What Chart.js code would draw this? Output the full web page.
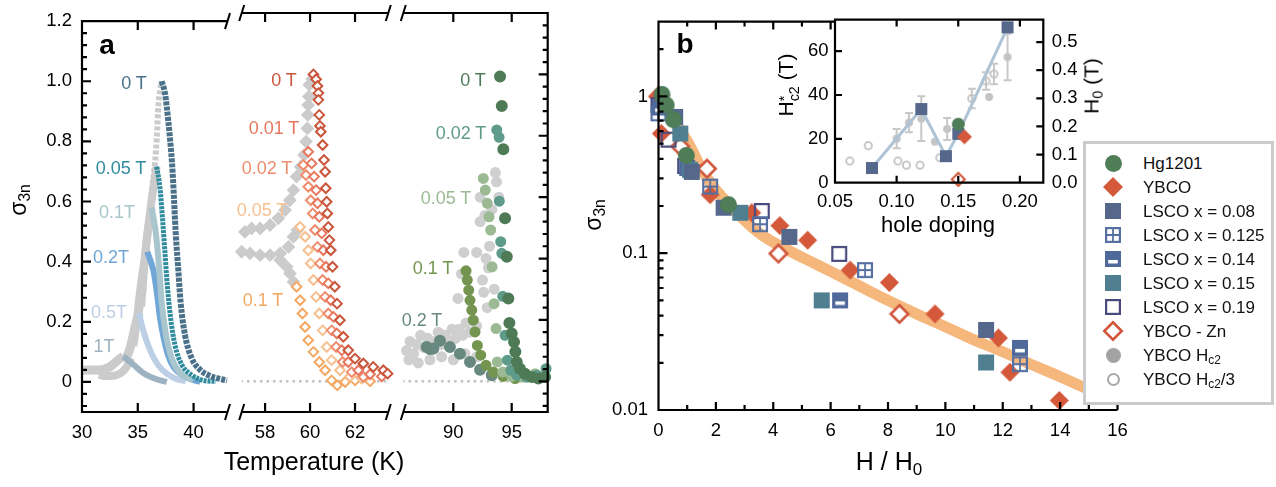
<!DOCTYPE html>
<html>
<head>
<meta charset="utf-8">
<script src="https://cdn.jsdelivr.net/npm/chart.js@4.4.1/dist/chart.umd.min.js"></script>
<style>
body { margin: 0; background: #fff; }
#wrap { position: relative; width: 1276px; height: 487px; overflow: hidden; font-family: "Liberation Sans", Arial, sans-serif; color: #111; }
canvas { position: absolute; top: 0; }
.t { position: absolute; white-space: nowrap; line-height: 1; transform: translate(-50%, -50%); }
.t sub { font-size: 0.68em; vertical-align: -0.3em; line-height: 0; }
#legend { position: absolute; left: 1083px; top: 141px; width: 185px; height: 258px; border: 3px solid #cbcbcb; background: #fff; }
#legend .row { position: absolute; left: 0; height: 20px; width: 185px; }
#legend canvas { position: absolute; }
#legend span { position: absolute; left: 57px; top: 50%; transform: translateY(-50%); font-size: 17px; white-space: nowrap; line-height: 1; }
#legend sub { font-size: 0.7em; vertical-align: -0.3em; line-height: 0; }
</style>
</head>
<body>
<div id="wrap">
  <canvas id="a1" width="235" height="487" style="left:0px"></canvas>
  <canvas id="a2" width="162" height="487" style="left:234px"></canvas>
  <canvas id="a3" width="160" height="487" style="left:396px"></canvas>
  <canvas id="b" width="580" height="487" style="left:560px"></canvas>
  <canvas id="ins" width="340" height="250" style="left:760px"></canvas>
  <div id="legend"></div>
</div>
<script>
// ---------- panel a, left block (~37 K): [T, sigma_3n] ----------
const a1_0T   = [[37.14,1.0],[37.44,0.96],[37.59,0.917],[37.89,0.808],[38.12,0.699],[38.27,0.59],[38.42,0.482],[38.63,0.373],[38.84,0.264],[39.23,0.156],[39.83,0.079],[40.57,0.041],[41.47,0.02],[42.37,0.01],[43.0,0.005]];
const a1_005T = [[36.69,0.716],[36.99,0.645],[37.23,0.536],[37.44,0.427],[37.65,0.319],[37.95,0.21],[38.33,0.123],[38.93,0.058],[39.83,0.023],[40.87,0.005],[42.0,0.002]];
const a1_01T  = [[36.24,0.58],[36.6,0.5],[36.93,0.373],[37.14,0.264],[37.53,0.156],[38.04,0.079],[38.78,0.03],[39.97,0.005]];
const a1_02T  = [[35.85,0.433],[36.4,0.37],[36.7,0.3],[37.0,0.21],[37.3,0.15],[37.7,0.09],[38.2,0.05],[39.4,0.014],[40.6,0.0]];
const a1_05T  = [[35.1,0.229],[35.5,0.17],[35.9,0.125],[36.5,0.075],[37.2,0.04],[38.2,0.014],[39.3,0.002]];
const a1_1T   = [[33.7,0.085],[34.6,0.058],[35.49,0.03],[36.69,0.009],[37.6,0.0]];
const a1Gray0T   = [[35.5,0.3],[35.8,0.45],[36.1,0.57],[36.4,0.68],[36.55,0.73],[36.7,0.81],[36.85,0.92],[37.0,0.97],[37.14,1.0]];
const a1Gray005T = [[35.3,0.25],[35.6,0.4],[35.95,0.52],[36.3,0.62],[36.69,0.716]];
const a1Gray01T  = [[35.0,0.2],[35.3,0.3],[35.6,0.4],[35.9,0.5],[36.24,0.58]];
const a1Gray02T  = [[34.6,0.12],[34.9,0.2],[35.2,0.3],[35.5,0.38],[35.85,0.433]];
const a1Gray05T  = [[33.8,0.07],[34.2,0.1],[34.5,0.14],[34.8,0.19],[35.1,0.229]];
const a1Gray1T   = [[30,0.038],[30.5,0.04],[31,0.04],[31.5,0.04],[32,0.043],[32.5,0.05],[33,0.065],[33.4,0.078],[33.7,0.085]];
const a1GrayLow  = [[31.5,0.024],[32,0.02],[32.5,0.02],[33,0.022],[33.5,0.03],[34,0.05],[34.4,0.08]];

// ---------- panel a, middle block (~60 K) ----------
const a2_0T   = [[60.15,1.0],[60.27,0.984],[60.33,0.962],[60.37,0.939],[60.37,0.917],[60.41,0.868],[60.44,0.832],[60.48,0.813],[60.56,0.77],[60.62,0.721],[60.67,0.683],[60.7,0.629],[60.74,0.585],[60.77,0.547],[60.81,0.503],[60.86,0.46],[60.92,0.427],[61.0,0.373],[61.1,0.308],[61.2,0.253],[61.33,0.199],[61.48,0.145],[61.7,0.101],[62.0,0.074],[62.37,0.058],[62.81,0.047],[63.26,0.036],[63.45,0.025]];
const a2_001T = [[59.92,0.748],[60.07,0.71],[60.18,0.667],[60.27,0.623],[60.33,0.58],[60.41,0.536],[60.52,0.482],[60.59,0.427],[60.71,0.373],[60.81,0.319],[60.92,0.264],[61.04,0.21],[61.19,0.156],[61.41,0.101],[61.7,0.063],[62.15,0.036],[62.67,0.023],[63.19,0.016]];
const a2_002T = [[59.7,0.705],[59.82,0.672],[59.92,0.634],[60.03,0.59],[60.12,0.547],[60.22,0.493],[60.33,0.438],[60.44,0.384],[60.56,0.33],[60.67,0.275],[60.81,0.221],[60.96,0.166],[61.16,0.112],[61.45,0.063],[61.85,0.03],[62.37,0.014]];
const a2_005T = [[59.56,0.503],[59.78,0.471],[59.92,0.427],[60.03,0.384],[60.15,0.33],[60.27,0.275],[60.41,0.221],[60.56,0.166],[60.74,0.112],[60.96,0.069],[61.33,0.036],[61.78,0.016],[62.3,0.009]];
const a2_01T  = [[59.4,0.308],[59.56,0.264],[59.66,0.221],[59.78,0.177],[59.92,0.134],[60.15,0.096],[60.41,0.063],[60.67,0.036],[60.96,0.003],[61.21,-0.013],[61.56,-0.002],[62.0,0.003],[62.67,0.0]];
const a2GrayTop  = [[60.1,0.985],[59.97,0.966],[59.95,0.928],[59.92,0.9],[59.9,0.868],[59.88,0.824],[59.82,0.781],[59.73,0.737],[59.58,0.699],[59.4,0.667],[59.26,0.623],[59.1,0.59],[58.89,0.558],[58.59,0.531],[58.22,0.509],[57.78,0.498],[57.4,0.498],[57.1,0.487]];
const a2GrayMid  = [[56.96,0.422],[57.33,0.417],[57.78,0.411],[58.22,0.411],[58.67,0.417],[59.04,0.438],[59.26,0.471],[59.44,0.493]];
const a2GrayLow  = [[58.67,0.395],[58.96,0.373],[59.11,0.351],[59.26,0.324]];

// ---------- panel a, right block (~94 K) ----------
const a3_0T   = [[94.0,0.993],[94.15,0.897],[94.28,0.756],[94.43,0.531],[94.58,0.406],[94.71,0.27],[94.8,0.19],[95.0,0.156],[95.2,0.128],[95.31,0.096],[95.43,0.063],[95.71,0.041],[96.14,0.025],[96.72,0.014],[97.28,0.009],[97.86,0.014]];
const a3_002T = [[93.72,0.819],[93.92,0.795],[93.94,0.587],[94.06,0.455],[94.15,0.417],[94.23,0.277],[94.43,0.15],[94.63,0.069],[94.92,0.036],[95.43,0.02],[96.29,0.014],[97.15,0.02],[97.94,0.041]];
const a3_005T = [[92.57,0.661],[92.74,0.623],[92.91,0.58],[93.06,0.536],[93.2,0.493],[93.32,0.373],[93.49,0.253],[93.66,0.172],[93.77,0.063],[94.23,0.03],[95.0,0.016],[96.0,0.014],[97.0,0.025]];
const a3_01T  = [[91.09,0.36],[91.2,0.33],[91.32,0.297],[91.43,0.264],[91.58,0.232],[91.71,0.199],[91.86,0.161],[92.06,0.117],[92.35,0.085],[92.8,0.052],[93.43,0.03],[94.28,0.016],[95.29,0.009]];
const a3_02T  = [[87.72,0.112],[88.0,0.105],[88.29,0.107],[88.86,0.132],[89.71,0.112],[90.57,0.09],[91.43,0.063],[92.29,0.038],[93.29,0.02]];
const a3Gray  = [[86.0,0.1],[86.3,0.13],[86.6,0.09],[86.9,0.12],[87.2,0.15],[87.5,0.11],[87.8,0.14],[88.1,0.1],[88.4,0.13],[88.7,0.16],[89.0,0.12],[89.3,0.15],[89.6,0.13],[89.9,0.17],[90.2,0.14],[90.5,0.17],[90.8,0.15],[91.1,0.19],[91.4,0.16],[91.7,0.2],[92.0,0.18],
                 [86.2,0.07],[87.0,0.06],[88.0,0.07],[89.0,0.08],[90.0,0.07],[91.0,0.09],[92.0,0.08],
                 [90.4,0.27],[90.7,0.35],[90.9,0.42],[92.0,0.42],[92.3,0.52],[92.3,0.6],[92.6,0.29],[92.7,0.54],[92.9,0.24],[93.0,0.37],[93.1,0.44],[93.6,0.68],[93.7,0.65],[93.9,0.6],[92.5,0.33],[92.8,0.4],[93.3,0.56],[93.5,0.3]];

// ---------- panel b: [H/H0, sigma_3n] ----------
const bHg1201  = [[0.12,1.03],[0.27,0.88],[0.52,0.71],[0.97,0.42],[2.44,0.204]];
const bYbco    = [[0.0,1.0],[0.1,0.58],[1.8,0.236],[3.25,0.181],[4.23,0.15],[5.2,0.121],[6.68,0.078],[8.05,0.065],[9.64,0.041],[11.85,0.0288],[12.25,0.0174],[13.97,0.0115]];
const bLsco08  = [[0.58,0.74],[1.16,0.33],[2.27,0.195],[4.56,0.127],[11.42,0.0324]];
const bLsco125 = [[0.0,0.78],[1.8,0.266],[3.54,0.153],[7.2,0.078],[12.6,0.0196]];
const bLsco14  = [[0.05,0.85],[1.0,0.35],[6.33,0.05],[12.6,0.0249]];
const bLsco15  = [[0.76,0.58],[1.1,0.34],[2.85,0.181],[5.69,0.05],[11.42,0.0201]];
const bLsco19  = [[0.0,0.88],[0.35,0.53],[0.93,0.36],[3.6,0.186],[6.3,0.099]];
const bYbcoZn  = [[0.0,1.0],[0.76,0.48],[1.69,0.346],[4.18,0.0995],[8.4,0.041]];
const bFit     = [[0,1.0],[0.5,0.72],[1,0.52],[1.7,0.3],[2.5,0.2],[3.5,0.135],[4.5,0.105],[5.5,0.085],[6.7,0.066],[8,0.05],[9,0.041],[10,0.034],[11,0.028],[12,0.0235],[13,0.0195],[14,0.0163],[15,0.0135],[16,0.0115]];

// ---------- inset: hole doping vs H*c2 (T) / H0 (T) ----------
const insLscoDop  = [0.08, 0.12, 0.14, 0.15, 0.19];
const insLscoH    = [6.7, 33.6, 12.1, 22.3, 70.9];
const insHgDop    = [0.15],  insHgH0   = [0.208];
const insYbcoDop  = [0.155], insYbcoH0 = [0.163];
const insZnDop    = [0.15],  insZnH0   = [0.012];
const insHc2Dop   = [0.10, 0.11, 0.12, 0.131, 0.141, 0.175, 0.19];
const insHc2      = [20.1, 27.4, 29.2, 18.7, 24.5, 39.1, 57.3];
const insHc2Err   = [4.4, 4.4, 10.2, 0, 5, 0, 10.6];
const insHc23Dop  = [0.062, 0.077, 0.101, 0.108, 0.119, 0.135, 0.161, 0.1725, 0.179];
const insHc23     = [9.9, 16.9, 9.9, 8.0, 8.0, 11.4, 38.4, 46.4, 49.6];
const insHc23Err  = [0, 0, 0, 0, 0, 0, 4.4, 4.0, 4.7];

// ---------- tick values ----------
const a1Ticks = [30, 35, 40], a2Ticks = [58, 60, 62], a3Ticks = [90, 95];
const aYTicks = [0, 0.2, 0.4, 0.6, 0.8, 1.0, 1.2];
const bXTicks = [0, 2, 4, 6, 8, 10, 12, 14, 16];
const bYTicks = [0.01, 0.1, 1];
const insXTicks = [0.05, 0.10, 0.15, 0.20];
const insYTicks = [0, 20, 40, 60];
const insY2Ticks = [0, 0.1, 0.2, 0.3, 0.4, 0.5];

const legendLabels = ['Hg1201', 'YBCO', 'LSCO x = 0.08', 'LSCO x = 0.125', 'LSCO x = 0.14', 'LSCO x = 0.15', 'LSCO x = 0.19', 'YBCO - Zn', 'YBCO H<sub>c2</sub>', 'YBCO H<sub>c2</sub>/3'];

Chart.defaults.font.family = '"Liberation Sans", Arial, sans-serif';
Chart.defaults.color = '#111';
const TICK = 18.5;
const NOGRID = {display: false, drawTicks: false};

const xy = arr => arr.map(p => ({x: p[0], y: p[1]}));
const zip = (xs, ys) => xs.map((v, i) => ({x: v, y: ys[i]}));

// marker images for the symbols that Chart.js has no style for
function mk(type, s, color, lw) {
  lw = lw || 2;
  const pad = Math.ceil(lw) + 1;
  const c = document.createElement('canvas');
  c.width = c.height = Math.ceil(s + pad * 2);
  const g = c.getContext('2d'), m = c.width / 2, h = s / 2;
  g.fillStyle = color; g.strokeStyle = color; g.lineWidth = lw;
  g.beginPath();
  if (type === 'circle') { g.arc(m, m, h, 0, 2 * Math.PI); g.fill(); }
  else if (type === 'ocircle') { g.arc(m, m, h - lw / 2, 0, 2 * Math.PI); g.stroke(); }
  else if (type === 'diamond') { g.moveTo(m, m - h); g.lineTo(m + h, m); g.lineTo(m, m + h); g.lineTo(m - h, m); g.closePath(); g.fill(); }
  else if (type === 'odiamond') {
    const k = h - lw / 2;
    g.moveTo(m, m - k); g.lineTo(m + k, m); g.lineTo(m, m + k); g.lineTo(m - k, m); g.closePath();
    g.fillStyle = '#fff'; g.fill(); g.stroke();
  }
  else if (type === 'square') { g.fillRect(m - h, m - h, s, s); }
  else if (type === 'osquare') { g.strokeRect(m - h + lw / 2, m - h + lw / 2, s - lw, s - lw); }
  else if (type === 'gsquare') {
    g.strokeRect(m - h + lw / 2, m - h + lw / 2, s - lw, s - lw);
    g.lineWidth = lw * 0.8;
    g.moveTo(m, m - h); g.lineTo(m, m + h); g.moveTo(m - h, m); g.lineTo(m + h, m); g.stroke();
  }
  else if (type === 'bsquare') {
    g.fillRect(m - h, m - h, s, s);
    g.fillStyle = '#fff'; g.fillRect(m - h + s * 0.2, m - h + s * 0.56, s * 0.6, s * 0.22);
  }
  return c;
}

// axis frame with inward ticks and axis breaks
const framePlugin = {
  id: 'frame',
  afterDraw(chart, args, o) {
    const ctx = chart.ctx, a = chart.chartArea;
    const L = a.left, R = a.right, T = a.top, B = a.bottom;
    const xs = chart.scales.x;
    const topEnd = o.topEnd !== undefined ? o.topEnd : R;
    ctx.save();
    ctx.strokeStyle = '#000';
    ctx.lineWidth = o.lw || 2.2;
    ctx.beginPath();
    ctx.moveTo(L - (o.left ? 1.1 : 0), B); ctx.lineTo(R + (o.right ? 1.1 : 0), B);
    if (o.top !== false) { ctx.moveTo(L - (o.left ? 1.1 : 0), T); ctx.lineTo(topEnd + (o.right ? 1.1 : 0), T); }
    if (o.left) { ctx.moveTo(L, T); ctx.lineTo(L, B); }
    if (o.right) { ctx.moveTo(R, T); ctx.lineTo(R, B); }
    (o.xt || []).forEach(([v, len]) => {
      const px = xs.getPixelForValue(v);
      ctx.moveTo(px, B); ctx.lineTo(px, B - len);
      if (o.top !== false && px <= topEnd) { ctx.moveTo(px, T); ctx.lineTo(px, T + len); }
    });
    const yl = chart.scales[o.yl || 'y'], yr = chart.scales[o.yr || 'y'];
    (o.ylt || []).forEach(([v, len]) => { const py = yl.getPixelForValue(v); ctx.moveTo(L, py); ctx.lineTo(L + len, py); });
    (o.yrt || []).forEach(([v, len]) => { const py = yr.getPixelForValue(v); ctx.moveTo(R, py); ctx.lineTo(R - len, py); });
    ctx.stroke();
    ctx.lineWidth = 2;
    ctx.beginPath();
    const slash = (x, y) => { ctx.moveTo(x - 2.5, y + 8); ctx.lineTo(x + 2.5, y - 8); };
    if (o.breakL) { slash(L, T); slash(L, B); }
    if (o.breakR) { slash(R, T); slash(R, B); }
    ctx.stroke();
    ctx.restore();
  }
};

// white inset background + error bars
const insetPlugin = {
  id: 'insetBg',
  beforeDraw(chart) {
    const a = chart.chartArea, ctx = chart.ctx;
    ctx.save(); ctx.fillStyle = '#fff'; ctx.fillRect(a.left, a.top, a.right - a.left, a.bottom - a.top); ctx.restore();
  },
  beforeDatasetsDraw(chart) {
    const ctx = chart.ctx;
    ctx.save();
    chart.data.datasets.forEach(ds => {
      if (!ds.err) return;
      const ys = chart.scales[ds.yAxisID || 'y'], xs = chart.scales.x;
      ctx.strokeStyle = ds.errColor; ctx.lineWidth = 2;
      ds.data.forEach((p, i) => {
        const e = ds.err[i]; if (!e) return;
        const px = xs.getPixelForValue(p.x), y1 = ys.getPixelForValue(p.y - e), y2 = ys.getPixelForValue(p.y + e);
        ctx.beginPath();
        ctx.moveTo(px, y1); ctx.lineTo(px, y2);
        ctx.moveTo(px - 4, y1); ctx.lineTo(px + 4, y1);
        ctx.moveTo(px - 4, y2); ctx.lineTo(px + 4, y2);
        ctx.stroke();
      });
    });
    ctx.restore();
  }
};

function ticksFrom(list) { return s => { s.ticks = list.map(v => ({value: v})); }; }

const yMinor = [], yMajor = [];
for (let k = -2; k <= 30; k++) { const v = Math.round(k * 4) / 100; (k % 5 === 0 ? yMajor : yMinor).push(v); }
const aYTickMarks = yMinor.map(v => [v, 5]).concat(yMajor.map(v => [v, 9]));

function lineDs(data, color, width, dash, order) {
  return {data: xy(data), showLine: true, borderColor: color, borderWidth: width, borderDash: dash || [],
          pointRadius: 0, cubicInterpolationMode: 'monotone', order: order || 0};
}
function dotDs(data, style, r, color, fill, order) {
  return {data: xy(data), showLine: false, pointStyle: style, pointRadius: r, borderWidth: 2,
          borderColor: color, backgroundColor: fill || color, order: order || 0, clip: false};
}
function zeroDs(a, b) {
  return {data: [{x: a, y: 0}, {x: b, y: 0}], showLine: true, borderColor: '#c4c4c4', borderWidth: 3,
          borderDash: [0.01, 6.5], borderCapStyle: 'round', pointRadius: 0, order: 20};
}

function segChart(id, padL, padR, yWidth, xmin, xmax, xt, datasets, frame) {
  return new Chart(document.getElementById(id), {
    type: 'scatter',
    data: {datasets},
    options: {
      responsive: false, animation: false,
      layout: {padding: {left: padL, right: padR, top: 13, bottom: 0}},
      plugins: {legend: {display: false}, tooltip: {enabled: false}, frame},
      scales: {
        x: {type: 'linear', min: xmin, max: xmax, grid: NOGRID, border: {display: false},
            afterBuildTicks: ticksFrom(xt),
            afterFit: s => { s.height = 75; s.paddingLeft = 0; s.paddingRight = 0; },
            ticks: {padding: 10, color: '#000', font: {size: TICK}, maxRotation: 0, autoSkip: false, callback: v => String(v)}},
        y: {type: 'linear', min: -0.1, max: 1.2, display: yWidth > 0, grid: NOGRID, border: {display: false},
            afterBuildTicks: ticksFrom(aYTicks),
            afterFit: s => { s.width = yWidth; },
            ticks: {padding: 10, color: '#000', font: {size: TICK}, callback: v => v === 0 ? '0' : v.toFixed(1)}}
      }
    },
    plugins: [framePlugin]
  });
}

const G1 = '#cbcbcb';
segChart('a1', 0, 7.5, 82, 30, 43.04, a1Ticks, [
  lineDs(a1_0T, '#4a7189', 6, [4, 1.2]),
  lineDs(a1_005T, '#2f8b9d', 5, [3, 1]),
  lineDs(a1_01T, '#a9c5cd', 6),
  lineDs(a1_02T, '#70a7d7', 6),
  lineDs(a1_05T, '#bccfe5', 6),
  lineDs(a1_1T, '#9db3c1', 6),
  lineDs(a1Gray0T, G1, 6, [4, 2], 5),
  lineDs(a1Gray005T, G1, 8, [], 5),
  lineDs(a1Gray01T, G1, 8, [], 5),
  lineDs(a1Gray02T, G1, 8, [], 5),
  lineDs(a1Gray05T, G1, 9, [], 5),
  lineDs(a1Gray1T, G1, 9, [], 5),
  lineDs(a1GrayLow, G1, 8, [], 5)
], {left: true, breakR: true, xt: a1Ticks.map(v => [v, 9]), ylt: aYTickMarks});

segChart('a2', 7.7, 7.7, 0, 56.96, 63.48, a2Ticks, [
  dotDs(a2_0T, 'rectRot', 4.8, '#c9553b', '#fff'),
  dotDs(a2_001T, 'rectRot', 4.8, '#e8775f', '#fff'),
  dotDs(a2_002T, 'rectRot', 4.8, '#ee8d6d', '#fff'),
  dotDs(a2_005T, 'rectRot', 4.8, '#f6c090', '#fff'),
  dotDs(a2_01T, 'rectRot', 4.8, '#f3a964', '#fff'),
  dotDs(a2GrayTop, 'rectRot', 5.5, G1, G1, 5),
  dotDs(a2GrayMid, 'rectRot', 5.5, G1, G1, 5),
  dotDs(a2GrayLow, 'rectRot', 5.5, G1, G1, 5),
  zeroDs(56.96, 63.48)
], {breakL: true, breakR: true, xt: a2Ticks.map(v => [v, 9])});

segChart('a3', 7.3, 8.3, 0, 85.72, 98.08, a3Ticks, [
  dotDs(a3_0T, 'circle', 5, '#4e7b56'),
  dotDs(a3_002T, 'circle', 4.5, '#5f9b8a'),
  dotDs(a3_005T, 'circle', 4.5, '#9bba93'),
  dotDs(a3_01T, 'circle', 4.5, '#74954f'),
  dotDs(a3_02T, 'circle', 5, '#67897f'),
  dotDs(a3Gray, 'circle', 4.5, '#cfcfcf', '#cfcfcf', 5),
  zeroDs(85.72, 98.08)
], {right: true, breakL: true, xt: a3Ticks.map(v => [v, 9]), yrt: aYTickMarks});

// ---------- panel b ----------
const bYMarks = [];
[0.01, 0.1, 1].forEach(d => { bYMarks.push([d, 9]); for (let k = 2; k <= 9; k++) { if (k * d <= 3) bYMarks.push([k * d, 5]); } });
const bXMarks = [];
for (let u = 0; u <= 16; u++) bXMarks.push([u, u % 2 === 0 ? 8 : 5]);

function imgDs(data, img, order) {
  return {data: data, showLine: false, pointStyle: img, pointRadius: 9, order: order || 0, clip: false};
}

new Chart(document.getElementById('b'), {
  type: 'scatter',
  data: {datasets: [
    imgDs(xy(bHg1201), mk('circle', 17, '#4e7d57'), 0),
    imgDs(xy(bLsco08), mk('square', 16, '#55678b'), 1),
    imgDs(xy(bLsco15), mk('square', 16, '#4f7f90'), 1),
    imgDs(xy(bLsco14), mk('bsquare', 16, '#4f6a9a'), 1),
    imgDs(xy(bLsco125), mk('gsquare', 16, '#5570a0', 2.2), 1),
    imgDs(xy(bLsco19), mk('osquare', 16, '#4a4a7e', 2.2), 1),
    imgDs(xy(bYbco), mk('diamond', 19, '#d4583a'), 2),
    imgDs(xy(bYbcoZn), mk('odiamond', 20, '#d0553a', 2.5), 2),
    {data: xy(bFit), showLine: true, borderColor: '#f6b77d', borderWidth: 11, pointRadius: 0, tension: 0.4, order: 10}
  ]},
  options: {
    responsive: false, animation: false,
    layout: {padding: {left: 0, right: 22.5, top: 12.7, bottom: 0}},
    plugins: {legend: {display: false}, tooltip: {enabled: false},
              frame: {left: true, topEnd: 275, xt: bXMarks, ylt: bYMarks}},
    scales: {
      x: {type: 'linear', min: 0, max: 16, grid: NOGRID, border: {display: false},
          afterBuildTicks: ticksFrom(bXTicks),
          afterFit: s => { s.height = 77; s.paddingLeft = 0; s.paddingRight = 0; },
          ticks: {padding: 10, color: '#000', font: {size: TICK}, maxRotation: 0, autoSkip: false, callback: v => String(v)}},
      y: {type: 'logarithmic', min: 0.01, max: 3, grid: NOGRID, border: {display: false},
          afterBuildTicks: ticksFrom(bYTicks),
          afterFit: s => { s.width = 98.5; },
          ticks: {padding: 10.5, color: '#000', font: {size: TICK}, callback: v => String(v)}}
    }
  },
  plugins: [framePlugin]
});

// ---------- inset ----------
new Chart(document.getElementById('ins'), {
  type: 'scatter',
  data: {datasets: [
    {data: zip(insHgDop, insHgH0), yAxisID: 'y2', pointStyle: mk('circle', 13, '#4e7d57'), pointRadius: 7, clip: false, order: 0},
    {data: zip(insYbcoDop, insYbcoH0), yAxisID: 'y2', pointStyle: mk('diamond', 15, '#d4583a'), pointRadius: 7, clip: false, order: 0},
    {data: zip(insZnDop, insZnH0), yAxisID: 'y2', pointStyle: mk('odiamond', 15, '#d0553a', 2), pointRadius: 7, clip: false, order: 0},
    {data: zip(insLscoDop, insLscoH), yAxisID: 'y', showLine: true, borderColor: '#aec4d6', borderWidth: 3,
     pointStyle: mk('square', 12, '#55678b'), pointRadius: 7, clip: false, order: 1},
    {data: zip(insHc2Dop, insHc2), yAxisID: 'y', err: insHc2Err, errColor: '#c8c8c8',
     pointStyle: mk('circle', 8, '#c4c4c4'), pointRadius: 5, order: 2},
    {data: zip(insHc23Dop, insHc23), yAxisID: 'y', err: insHc23Err, errColor: '#c8c8c8',
     pointStyle: mk('ocircle', 9, '#c2c2c2', 1.8), pointRadius: 5, order: 2}
  ]},
  options: {
    responsive: false, animation: false,
    layout: {padding: {left: 0, right: 0, top: 12.7, bottom: 0}},
    plugins: {legend: {display: false}, tooltip: {enabled: false},
              frame: {left: true, right: true, lw: 2.2, yr: 'y2',
                      xt: [[0.10, 7], [0.15, 7], [0.20, 7]],
                      ylt: [[20, 7], [40, 7], [60, 7]],
                      yrt: [[0.1, 7], [0.2, 7], [0.3, 7], [0.4, 7], [0.5, 7]]}},
    scales: {
      x: {type: 'linear', min: 0.05, max: 0.219, grid: NOGRID, border: {display: false},
          afterBuildTicks: ticksFrom(insXTicks),
          afterFit: s => { s.height = 67.3; s.paddingLeft = 0; s.paddingRight = 0; },
          ticks: {padding: 8, color: '#000', font: {size: TICK}, maxRotation: 0, autoSkip: false, callback: v => v.toFixed(2)}},
      y: {type: 'linear', position: 'left', min: 0, max: 74.4, grid: NOGRID, border: {display: false},
          afterBuildTicks: ticksFrom(insYTicks),
          afterFit: s => { s.width = 75; },
          ticks: {padding: 6.5, color: '#000', font: {size: TICK}, callback: v => String(v)}},
      y2: {type: 'linear', position: 'right', min: 0, max: 0.58, grid: NOGRID, border: {display: false},
          afterBuildTicks: ticksFrom(insY2Ticks),
          afterFit: s => { s.width = 56.7; },
          ticks: {padding: 8.5, color: '#000', font: {size: TICK}, callback: v => v.toFixed(1)}}
    }
  },
  plugins: [insetPlugin, framePlugin]
});

// ---------- text ----------
const wrap = document.getElementById('wrap');
function txt(html, x, y, size, color, extra) {
  const d = document.createElement('div');
  d.className = 't';
  d.innerHTML = html;
  d.style.left = x + 'px'; d.style.top = y + 'px';
  d.style.fontSize = size + 'px';
  if (color) d.style.color = color;
  if (extra) Object.assign(d.style, extra);
  wrap.appendChild(d);
  return d;
}
const rot = {transform: 'translate(-50%,-50%) rotate(-90deg)'};
txt('a', 107, 45, 28, '#000', {fontWeight: 'bold'});
txt('b', 685, 44, 28, '#000', {fontWeight: 'bold'});
txt('σ<sub>3n</sub>', 18, 200, 23, '#000', rot);
txt('σ<sub>3n</sub>', 593, 215, 23, '#000', rot);
txt('Temperature (K)', 314, 461, 25, '#000');
txt('H / H<sub>0</sub>', 889, 461, 25, '#000');
txt('hole doping', 938, 225, 22, '#000');
txt('H<span style="display:inline-block;vertical-align:-0.45em;line-height:0.75;font-size:0.68em;text-align:left">*<br>c2</span> (T)', 788, 85, 21, '#000', rot);
txt('H<sub>0</sub> (T)', 1091, 86, 21, '#000', rot);

const fieldLabels = [
  ['0 T', 134, 83, '#4a7189'], ['0.05 T', 121, 168, '#2f8b9d'], ['0.1T', 117, 212, '#a9c5cd'],
  ['0.2T', 111, 257, '#70a7d7'], ['0.5T', 109, 312, '#bccfe5'], ['1T', 104, 346, '#9db3c1'],
  ['0 T', 284, 80, '#c9553b'], ['0.01 T', 274, 128, '#e8775f'], ['0.02 T', 267, 168, '#ee8d6d'],
  ['0.05 T', 262, 210, '#f6c090'], ['0.1 T', 263, 300, '#f3a964'],
  ['0 T', 473, 80, '#4e7b56'], ['0.02 T', 461, 133, '#5f9b8a'], ['0.05 T', 446, 198, '#9bba93'],
  ['0.1 T', 433, 268, '#74954f'], ['0.2 T', 422, 320, '#67897f']
];
fieldLabels.forEach(f => txt(f[0], f[1], f[2], 18, f[3]));

// ---------- legend ----------
const legendMarks = [
  mk('circle', 17, '#4e7d57'), mk('diamond', 20, '#d4583a'), mk('square', 16, '#55678b'),
  mk('gsquare', 16, '#5570a0', 2.2), mk('bsquare', 16, '#4f6a9a'), mk('square', 16, '#4f7f90'),
  mk('osquare', 16, '#4a4a7e', 2.2), mk('odiamond', 20, '#d0553a', 2.5), mk('circle', 15, '#a3a3a3'),
  mk('ocircle', 13, '#a8a8a8', 2)
];
const leg = document.getElementById('legend');
legendLabels.forEach((lab, i) => {
  const row = document.createElement('div');
  row.className = 'row';
  const cy = 163 + i * 24 - 144;
  row.style.top = (cy - 10) + 'px';
  const c = legendMarks[i];
  c.style.left = (27.3 - c.width / 2) + 'px';
  c.style.top = (10 - c.height / 2) + 'px';
  row.appendChild(c);
  const s = document.createElement('span');
  s.innerHTML = lab;
  row.appendChild(s);
  leg.appendChild(row);
});
</script>
</body>
</html>
